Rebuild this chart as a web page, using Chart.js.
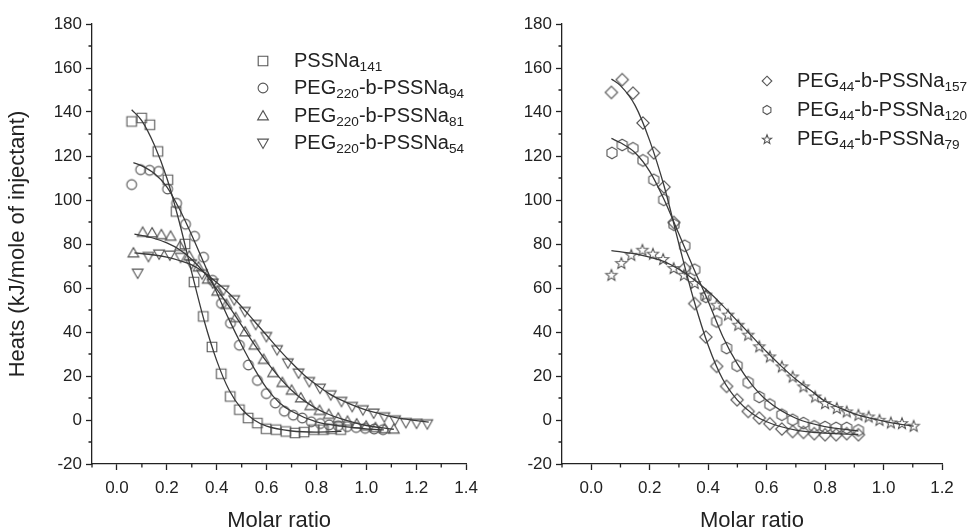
<!DOCTYPE html>
<html><head><meta charset="utf-8">
<script src="https://cdn.jsdelivr.net/npm/chart.js@4.4.0/dist/chart.umd.min.js"></script>
<style>
html,body{margin:0;padding:0;background:#fff;width:972px;height:531px;overflow:hidden}
#wrapL{position:absolute;left:0;top:0;width:486px;height:531px}
#wrapR{position:absolute;left:486px;top:0;width:486px;height:531px}
</style></head><body>
<div id="wrapL"><canvas id="cL" width="486" height="531"></canvas></div>
<div id="wrapR"><canvas id="cR" width="486" height="531"></canvas></div>
<script>
// ---------- Left panel data ----------
const pss141X = [0.059,0.099,0.132,0.164,0.204,0.237,0.273,0.309,0.346,0.381,0.418,0.454,0.491,0.526,0.563,0.598,0.638,0.677,0.714,0.750,0.789,0.828,0.860,0.897];
const pss141Y = [135.7,137.3,134.2,122.1,109.2,94.8,80.0,62.7,47.1,33.2,21.0,10.7,4.7,0.9,-1.4,-4.0,-4.4,-5.2,-5.9,-5.5,-4.4,-4.4,-4.0,-4.4];
const peg94X = [0.059,0.095,0.131,0.167,0.203,0.239,0.275,0.311,0.347,0.383,0.419,0.455,0.491,0.527,0.563,0.599,0.635,0.671,0.707,0.743,0.779,0.815,0.851,0.887,0.923,0.959,0.995,1.031,1.067];
const peg94Y = [107.0,113.8,113.5,113.0,105.0,98.5,89.0,83.5,74.0,63.5,53.0,44.0,34.0,25.0,18.0,12.0,7.7,4.0,2.2,0.9,-0.8,-1.6,-2.2,-2.6,-3.0,-3.4,-3.8,-4.1,-4.4];
const peg81X = [0.066,0.103,0.141,0.178,0.215,0.253,0.290,0.327,0.364,0.402,0.439,0.476,0.514,0.551,0.588,0.626,0.663,0.700,0.737,0.775,0.812,0.849,0.887,0.924,0.961,0.999,1.036,1.073,1.110];
const peg81Y = [75.9,85.3,85.0,84.2,83.5,78.9,74.5,69.5,64.0,58.5,52.5,46.5,40.0,34.0,27.5,21.5,17.0,13.5,10.0,6.5,4.3,2.5,0.8,-0.6,-1.8,-2.8,-3.5,-4.0,-4.2];
const peg54X = [0.083,0.126,0.169,0.212,0.255,0.298,0.341,0.384,0.427,0.470,0.513,0.556,0.599,0.642,0.685,0.728,0.771,0.814,0.857,0.900,0.943,0.986,1.029,1.072,1.115,1.158,1.201,1.244];
const peg54Y = [66.8,74.4,75.5,75.0,74.0,71.0,66.5,62.3,59.2,54.7,49.4,43.5,38.0,32.0,26.0,21.4,17.5,14.5,11.5,8.5,6.2,4.7,3.2,1.5,0.1,-1.1,-1.4,-1.7];
// fitted curves
const fit141X = [0.059,0.10,0.15,0.20,0.25,0.30,0.35,0.40,0.45,0.50,0.55,0.60,0.70,0.80,0.90];
const fit141Y = [141,136,125,110,90,67,45,27,13.5,5,0,-2.8,-5,-5.5,-5.2];
const fit94X = [0.066,0.10,0.15,0.20,0.25,0.30,0.35,0.40,0.45,0.50,0.55,0.60,0.65,0.70,0.80,0.90,1.00,1.07];
const fit94Y = [117,115.5,112,106,96,84,71,58,45.5,34,23.5,14.5,8,4,-0.8,-2.8,-4,-4.5];
const fit81X = [0.07,0.15,0.20,0.25,0.30,0.35,0.40,0.45,0.50,0.55,0.60,0.65,0.70,0.75,0.80,0.85,0.90,1.00,1.11];
const fit81Y = [84.5,82.5,80.5,77.5,73,67,59.5,51.5,43,34.5,26.5,19.5,13.5,8.8,5.2,2.5,0.5,-2.5,-4.2];
const fit54X = [0.07,0.15,0.20,0.25,0.30,0.35,0.40,0.45,0.50,0.55,0.60,0.65,0.70,0.75,0.80,0.85,0.90,0.95,1.00,1.05,1.10,1.15,1.20,1.25];
const fit54Y = [76,75,74,72.5,70.5,67,62.5,57.5,51.5,45,38.5,32,26,20.5,16,12,9,6.5,4.5,3,1.5,0.5,-0.3,-1];

// ---------- Right panel data ----------
const b157X = [0.069,0.106,0.143,0.177,0.214,0.249,0.283,0.320,0.354,0.392,0.429,0.463,0.499,0.537,0.575,0.611,0.652,0.689,0.726,0.763,0.800,0.838,0.874,0.914];
const b157Y = [148.9,154.7,148.6,135.0,121.4,105.9,89.8,69.0,52.9,37.7,24.4,15.3,9.2,3.9,0.9,-1.7,-4.1,-5.2,-5.6,-6.2,-6.7,-6.7,-6.2,-6.7];
const b120X = [0.071,0.106,0.143,0.177,0.214,0.248,0.283,0.320,0.354,0.392,0.429,0.463,0.499,0.537,0.575,0.611,0.652,0.689,0.726,0.763,0.800,0.838,0.874,0.914];
const b120Y = [121.4,125.0,123.5,118.0,109.2,100.1,88.8,79.2,68.3,56.0,44.8,32.7,24.7,17.1,10.5,7.0,2.4,0.1,-1.4,-2.9,-3.2,-3.6,-3.6,-4.7];
const b79X = [0.069,0.103,0.137,0.175,0.211,0.246,0.282,0.317,0.354,0.392,0.429,0.468,0.503,0.537,0.575,0.611,0.652,0.689,0.726,0.766,0.800,0.840,0.874,0.914,0.949,0.986,1.025,1.063,1.103];
const b79Y = [66.0,71.4,75.1,77.4,75.6,73.2,69.1,66.0,62.3,57.0,52.4,47.9,43.3,38.8,33.5,28.9,24.4,19.8,15.3,10.7,7.7,5.5,3.9,2.4,1.6,0.1,-1.1,-1.4,-2.6];
const fit157X = [0.069,0.10,0.15,0.20,0.25,0.30,0.35,0.40,0.45,0.50,0.55,0.60,0.70,0.80,0.914];
const fit157Y = [155,152,143,127,106,80,55,34,18.5,9,3,-0.8,-4.6,-6,-6.6];
const fit120X = [0.069,0.10,0.15,0.20,0.25,0.30,0.35,0.40,0.45,0.50,0.55,0.60,0.70,0.80,0.914];
const fit120Y = [128,126,121.5,113,100,84.5,69,54,38,25.5,16,9,0.8,-3,-5];
const fit79X = [0.069,0.15,0.20,0.25,0.30,0.35,0.40,0.45,0.50,0.55,0.60,0.65,0.70,0.75,0.80,0.85,0.90,0.95,1.00,1.05,1.103];
const fit79Y = [77,75.5,74,72,68.5,64,58.5,52,45,38,31,24.5,18.5,13.5,8.5,5.5,2.8,1,-0.5,-1.8,-2.8];

// ---------- Axis ticks ----------
const xTicksL = [0.0,0.2,0.4,0.6,0.8,1.0,1.2,1.4];
const xMinorL = [-0.1,0.1,0.3,0.5,0.7,0.9,1.1,1.3];
const xTicksR = [0.0,0.2,0.4,0.6,0.8,1.0,1.2];
const xMinorR = [-0.1,0.1,0.3,0.5,0.7,0.9,1.1];
const yTicks = [-20,0,20,40,60,80,100,120,140,160,180];
const yMinor = [-10,10,30,50,70,90,110,130,150,170];

const labelsL = ['PSSNa_{141}','PEG_{220}-b-PSSNa_{94}','PEG_{220}-b-PSSNa_{81}','PEG_{220}-b-PSSNa_{54}'];
const labelsR = ['PEG_{44}-b-PSSNa_{157}','PEG_{44}-b-PSSNa_{120}','PEG_{44}-b-PSSNa_{79}'];

// ---------- styling ----------
const FONT = "'Liberation Sans', Arial, Helvetica, sans-serif";
const INK = '#222';
const MARK = '#565656';
const LINE = '#3a3a3a';

function makeMarker(shape, scale) {
  scale = scale || 1;
  const S = 18, c = S / 2;
  const cv = document.createElement('canvas');
  cv.width = S; cv.height = S;
  const g = cv.getContext('2d');
  g.strokeStyle = MARK; g.lineWidth = 1.1;
  g.beginPath();
  if (shape === 'square') { const h = 4.8 * scale; g.rect(c - h, c - h, 2 * h, 2 * h); }
  else if (shape === 'circle') { g.arc(c, c, 4.9 * scale, 0, Math.PI * 2); }
  else if (shape === 'triUp' || shape === 'triDown') {
    const r = 6.2 * scale, s = shape === 'triUp' ? 1 : -1;
    for (let i = 0; i < 3; i++) {
      const a = -Math.PI / 2 + i * 2 * Math.PI / 3;
      const px = c + r * Math.cos(a), py = c + s * (r * Math.sin(a)) + s * 0.8;
      i ? g.lineTo(px, py) : g.moveTo(px, py);
    }
    g.closePath();
  }
  else if (shape === 'diamond') { const r = 6.2 * scale; g.moveTo(c, c - r); g.lineTo(c + r, c); g.lineTo(c, c + r); g.lineTo(c - r, c); g.closePath(); }
  else if (shape === 'hex') {
    const r = 5.8 * scale;
    for (let i = 0; i < 6; i++) { const a = -Math.PI / 2 + i * Math.PI / 3; const px = c + r * Math.cos(a), py = c + r * Math.sin(a); i ? g.lineTo(px, py) : g.moveTo(px, py); }
    g.closePath();
  }
  else if (shape === 'star') {
    const ro = 5.9 * scale, ri = 2.5 * scale;
    for (let i = 0; i < 10; i++) { const r = i % 2 ? ri : ro; const a = -Math.PI / 2 + i * Math.PI / 5; const px = c + r * Math.cos(a), py = c + 0.6 + r * Math.sin(a); i ? g.lineTo(px, py) : g.moveTo(px, py); }
    g.closePath();
  }
  g.stroke();
  return cv;
}

const mkSq = makeMarker('square'), mkCi = makeMarker('circle'), mkTu = makeMarker('triUp'), mkTd = makeMarker('triDown');
const mkDi = makeMarker('diamond'), mkHx = makeMarker('hex'), mkSt = makeMarker('star');
const mkDiS = makeMarker('diamond', 0.78), mkHxS = makeMarker('hex', 0.78), mkStS = makeMarker('star', 0.82);

function pts(xs, ys) { return xs.map((x, i) => ({x: x, y: ys[i]})); }
function scatterDs(xs, ys, img) {
  return {data: pts(xs, ys), pointStyle: img, pointRadius: 6, showLine: false, order: 2};
}
function fitDs(xs, ys) {
  return {data: pts(xs, ys), showLine: true, pointRadius: 0, borderColor: LINE, borderWidth: 1.3,
    cubicInterpolationMode: 'monotone', fill: false, order: 1};
}

function drawRich(ctx, text, x, y, size) {
  const parts = text.split(/(_\{[^}]*\})/).filter(s => s.length);
  let cx = x;
  parts.forEach(p => {
    if (p.startsWith('_{')) {
      const t = p.slice(2, -1);
      ctx.font = (size * 0.68).toFixed(1) + 'px ' + FONT;
      ctx.fillText(t, cx, y + size * 0.32);
      cx += ctx.measureText(t).width;
    } else {
      ctx.font = size + 'px ' + FONT;
      ctx.fillText(p, cx, y);
      cx += ctx.measureText(p).width;
    }
  });
}

const extras = {
  id: 'extras',
  afterDraw(chart, args, o) {
    const ctx = chart.ctx, xs = chart.scales.x, ys = chart.scales.y;
    ctx.save();
    ctx.strokeStyle = INK; ctx.lineWidth = 1.3;
    ctx.beginPath();
    o.xMinor.forEach(v => { const p = xs.getPixelForValue(v); ctx.moveTo(p, xs.top); ctx.lineTo(p, xs.top + 3.5); });
    o.yMinor.forEach(v => { const p = ys.getPixelForValue(v); ctx.moveTo(ys.right, p); ctx.lineTo(ys.right - 3.5, p); });
    ctx.stroke();
    // legend
    ctx.fillStyle = INK; ctx.textBaseline = 'middle'; ctx.textAlign = 'left';
    o.legend.forEach((e, i) => {
      const y = o.legY[i];
      ctx.drawImage(e.img, o.symX - e.img.width / 2, y - e.img.height / 2);
      drawRich(ctx, e.label, o.textX, y, o.fontSize);
    });
    ctx.restore();
  }
};

function axisOpts(min, max, ticks, fmt, pad, extra) {
  return Object.assign({
    type: 'linear', min: min, max: max,
    afterBuildTicks: s => { s.ticks = ticks.map(v => ({value: v})); },
    ticks: {callback: fmt, font: {family: FONT, size: 17}, color: INK, padding: pad, maxRotation: 0, autoSkip: false},
    grid: {drawOnChartArea: false, drawTicks: true, tickLength: 6, color: INK, tickWidth: 1.3},
    border: {display: true, color: INK, width: 1.3}
  }, extra);
}

function makeChart(id, cfg) {
  return new Chart(document.getElementById(id), {
    type: 'scatter',
    data: {datasets: cfg.datasets},
    options: {
      responsive: false, animation: false, events: [],
      layout: {padding: {top: 24, right: cfg.padRight, left: 0, bottom: 0}},
      plugins: {legend: {display: false}, tooltip: {enabled: false}, extras: cfg.extras},
      scales: {
        x: axisOpts(-0.1, cfg.xMax, cfg.xTicks, v => v.toFixed(1), 8, {
          afterFit: s => { s.height = 67; },
          title: {display: true, text: 'Molar ratio', font: {family: FONT, size: 22}, color: INK, padding: {top: 0, bottom: -3}}
        }),
        y: axisOpts(-20, 180, yTicks, v => String(v), 4, {
          afterFit: s => { s.width = cfg.yWidth; },
          title: {display: cfg.yTitle, text: 'Heats (kJ/mole of injectant)', font: {family: FONT, size: 22}, color: INK, padding: {top: 5, bottom: 0}}
        })
      }
    },
    plugins: [extras]
  });
}

makeChart('cL', {
  padRight: 12, xMax: 1.4, xTicks: xTicksL, yWidth: 92, yTitle: true,
  datasets: [
    scatterDs(pss141X, pss141Y, mkSq), scatterDs(peg94X, peg94Y, mkCi),
    scatterDs(peg81X, peg81Y, mkTu), scatterDs(peg54X, peg54Y, mkTd),
    fitDs(fit141X, fit141Y), fitDs(fit94X, fit94Y), fitDs(fit81X, fit81Y), fitDs(fit54X, fit54Y)
  ],
  extras: {xMinor: xMinorL, yMinor: yMinor, symX: 263, textX: 294, fontSize: 20, legY: [61, 88, 116, 143],
    legend: [{img: mkSq, label: labelsL[0]}, {img: mkCi, label: labelsL[1]}, {img: mkTu, label: labelsL[2]}, {img: mkTd, label: labelsL[3]}]}
});

makeChart('cR', {
  padRight: 30, xMax: 1.2, xTicks: xTicksR, yWidth: 76, yTitle: false,
  datasets: [
    scatterDs(b157X, b157Y, mkDi), scatterDs(b120X, b120Y, mkHx), scatterDs(b79X, b79Y, mkSt),
    fitDs(fit157X, fit157Y), fitDs(fit120X, fit120Y), fitDs(fit79X, fit79Y)
  ],
  extras: {xMinor: xMinorR, yMinor: yMinor, symX: 281, textX: 311, fontSize: 20, legY: [81, 110, 139],
    legend: [{img: mkDiS, label: labelsR[0]}, {img: mkHxS, label: labelsR[1]}, {img: mkStS, label: labelsR[2]}]}
});
</script>
</body></html>
